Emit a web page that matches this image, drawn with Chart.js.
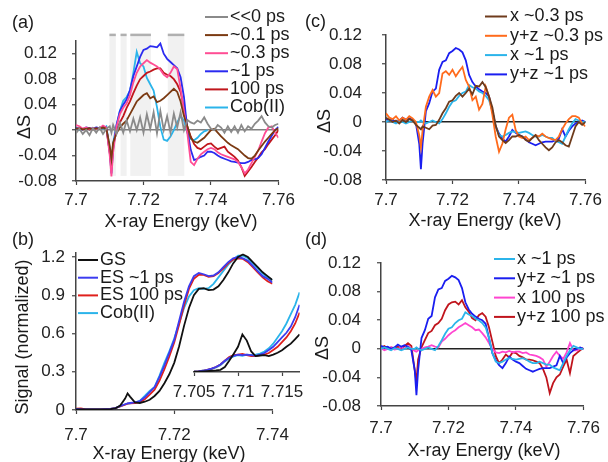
<!DOCTYPE html>
<html>
<head>
<meta charset="utf-8">
<title>Cobalamin XANES difference spectra</title>
<script src="https://cdn.jsdelivr.net/npm/chart.js"></script>
<style>
  body { margin: 0; background: #fff; }
  #fig { position: relative; width: 608px; height: 462px; overflow: hidden; background: #fff; }
  #fig canvas { position: absolute; }
</style>
</head>
<body>
<div id="fig">
  <canvas id="chartA" width="300" height="236" style="left:0px;top:0px"></canvas>
  <canvas id="chartC" width="308" height="236" style="left:300px;top:0px"></canvas>
  <canvas id="chartB" width="300" height="232" style="left:0px;top:230px"></canvas>
  <canvas id="chartD" width="308" height="232" style="left:300px;top:230px"></canvas>
  <canvas id="chartInset" width="180" height="160" style="left:140px;top:250px"></canvas>
</div>
<script>
// energies (keV) for the difference spectra, panels a, c, d
const energyA = [7.700, 7.701, 7.702, 7.703, 7.704, 7.705, 7.706, 7.707, 7.708, 7.709,
  7.710, 7.7105, 7.711,
  7.712, 7.713, 7.714, 7.715, 7.716, 7.717, 7.718, 7.719,
  7.720, 7.721, 7.722, 7.723, 7.724, 7.725, 7.726, 7.727, 7.728, 7.729,
  7.730, 7.731, 7.732, 7.733, 7.734, 7.735, 7.736, 7.737, 7.738, 7.739,
  7.740, 7.741, 7.742, 7.743, 7.744, 7.745, 7.746, 7.747, 7.748, 7.749,
  7.750, 7.751, 7.752, 7.753, 7.754, 7.755, 7.756, 7.757, 7.758, 7.759, 7.760];

// panel (a): delta S for each delay
const negDelay = [-0.005, 0.002, -0.006, 0.0, -0.008, 0.003, -0.004, 0.004, -0.006, 0.002,
  0.006, -0.004, 0.008,
  -0.006, 0.012, -0.004, 0.015, -0.002, 0.018, 0.0, 0.02,
  -0.004, 0.025, 0.002, 0.028, -0.005, 0.03, 0.0, 0.022, -0.004, 0.026,
  0.004, 0.028, 0.0, 0.016, 0.012, 0.01, 0.015, 0.012, 0.02, 0.01,
  0.002, 0.0, 0.008, 0.004, -0.004, 0.006, -0.003, 0.006, -0.004, 0.008,
  -0.002, 0.006, 0.002, 0.01, 0.015, 0.022, 0.012, 0.006, 0.004, 0.008, 0.01];
const delay01 = [0.002, 0.003, 0.001, 0.002, 0.003, 0.001, 0.003, 0.002, 0.004, 0.002,
  -0.025, -0.045, -0.02,
  -0.005, 0.004, 0.01, 0.015, 0.025, 0.035, 0.045, 0.05,
  0.055, 0.058, 0.05, 0.053, 0.044, 0.046, 0.05, 0.055, 0.06, 0.065,
  0.06, 0.045, 0.022, 0.006, -0.012, -0.018, -0.02, -0.016, -0.012, -0.006,
  0.0, 0.002, -0.004, -0.01, -0.015, -0.02, -0.024, -0.027, -0.03, -0.035,
  -0.04, -0.044, -0.045, -0.04, -0.032, -0.025, -0.018, -0.012, -0.006, 0.0, 0.003];
const delay03 = [0.008, 0.006, 0.002, 0.004, 0.002, 0.003, 0.002, 0.003, 0.007, 0.004,
  -0.04, -0.073, -0.035,
  0.005, 0.025, 0.035, 0.042, 0.055, 0.075, 0.09, 0.1,
  0.105, 0.11, 0.106, 0.103, 0.1, 0.095, 0.087, 0.083, 0.09, 0.1,
  0.096, 0.065, 0.03, -0.005, -0.05, -0.055, -0.045, -0.038, -0.034, -0.03,
  -0.028, -0.03, -0.035, -0.038, -0.04, -0.042, -0.044, -0.046, -0.05, -0.058,
  -0.068, -0.062, -0.052, -0.042, -0.032, -0.018, -0.005, 0.004, 0.006, -0.004, -0.012];
const delay1 = [0.003, 0.002, 0.001, 0.004, 0.003, 0.002, 0.004, 0.003, 0.006, 0.004,
  -0.035, -0.068, -0.03,
  0.008, 0.03, 0.04, 0.048, 0.063, 0.085, 0.1, 0.115,
  0.126, 0.128, 0.132, 0.131, 0.13, 0.136, 0.12, 0.112, 0.107, 0.102,
  0.097, 0.083, 0.052, 0.0, -0.031, -0.047, -0.045, -0.042, -0.04, -0.034,
  -0.034, -0.036, -0.04, -0.043, -0.045, -0.047, -0.049, -0.05, -0.051, -0.052,
  -0.052, -0.05, -0.047, -0.046, -0.044, -0.038, -0.028, -0.018, -0.009, 0.0, 0.005];
const delay100 = [0.003, 0.002, 0.002, 0.003, 0.001, 0.002, 0.003, 0.002, 0.005, 0.003,
  -0.035, -0.06, -0.025,
  0.0, 0.012, 0.022, 0.035, 0.045, 0.058, 0.07, 0.08,
  0.085, 0.09, 0.092, 0.095, 0.097, 0.097, 0.09, 0.087, 0.085, 0.08,
  0.072, 0.06, 0.035, 0.005, -0.01, -0.022, -0.028, -0.03, -0.026, -0.022,
  -0.021, -0.026, -0.03, -0.028, -0.026, -0.034, -0.038, -0.042, -0.048, -0.058,
  -0.072, -0.065, -0.058, -0.05, -0.043, -0.035, -0.03, -0.022, -0.015, -0.008, 0.0];
const cobDiff = [0.002, 0.0, 0.002, 0.003, 0.001, 0.003, 0.004, 0.003, 0.002, 0.006,
  -0.03, -0.055, -0.02,
  0.006, 0.03, 0.046, 0.052, 0.062, 0.09, 0.123, 0.105,
  0.1, 0.082, 0.072, 0.062, 0.036, 0.005, -0.015, -0.017, -0.01, 0.0,
  0.012, 0.022, 0.015, -0.005, -0.014, -0.016, -0.012, -0.006, -0.002, 0.0,
  null, null, null, null, null, null, null, null, null, null,
  null, null, null, null, null, null, null, null, null, null, null];
// shaded energy windows in panel (a)
const shadeRanges = [[7.7099, 7.7118], [7.7132, 7.7150], [7.7161, 7.7222], [7.7272, 7.7321]];

// panels (c) and (d): polarized difference spectra
const x03 = [0.006, 0.003, 0.0, 0.002, -0.002, 0.003, 0.0, 0.004, 0.002, -0.004,
  -0.008, -0.01, -0.006,
  -0.008, -0.01, -0.005, -0.004, 0.003, 0.012, 0.019, 0.028,
  0.03, 0.036, 0.04, 0.035, 0.04, 0.046, 0.038, 0.05, 0.049, 0.055,
  0.048, 0.035, 0.02, -0.005, -0.02, -0.025, -0.029, -0.025, -0.02, -0.02,
  -0.018, -0.02, -0.025, -0.027, -0.022, -0.018, -0.025, -0.03, -0.035, -0.039,
  -0.035, -0.028, -0.025, -0.028, -0.032, -0.034, -0.02, -0.006, 0.0, -0.004, 0.0];
const yz03 = [0.012, 0.006, 0.004, 0.008, 0.002, 0.006, 0.003, 0.008, 0.005, 0.0,
  -0.018, -0.035, -0.012,
  0.021, 0.035, 0.044, 0.035, 0.04, 0.067, 0.07, 0.065,
  0.072, 0.063, 0.07, 0.076, 0.058, 0.049, 0.03, 0.035, 0.017, 0.025,
  0.049, 0.035, 0.01, -0.02, -0.041, -0.03, -0.01, 0.006, 0.01, -0.011,
  -0.02, -0.022, -0.02, -0.025, -0.022, -0.018, -0.02, -0.016, -0.02, -0.022,
  -0.024, -0.025, -0.02, -0.01, -0.002, 0.004, 0.008, 0.008, 0.006, -0.002, -0.006];
const x1 = [0.0, 0.002, 0.0, -0.002, 0.001, 0.0, -0.002, 0.0, 0.002, 0.0,
  0.0, 0.002, 0.0,
  -0.002, 0.0, 0.002, 0.0, -0.002, 0.004, 0.012, 0.021,
  0.028, 0.03, 0.036, 0.04, 0.042, 0.051, 0.048, 0.046, 0.042, 0.04,
  0.036, 0.03, 0.015, -0.006, -0.018, -0.02, -0.018, -0.015, -0.013, -0.014,
  -0.015, -0.014, -0.013, -0.015, -0.018, -0.02, -0.02, -0.018, -0.02, -0.022,
  -0.022, -0.026, -0.028, -0.03, -0.02, -0.01, -0.002, 0.004, 0.002, 0.0, 0.0];
const yz1 = [0.004, 0.002, 0.003, 0.0, 0.002, 0.006, 0.003, 0.005, 0.003, -0.002,
  -0.03, -0.065, -0.03,
  0.015, 0.026, 0.042, 0.046, 0.072, 0.083, 0.085, 0.095,
  0.098, 0.102, 0.1, 0.096, 0.085, 0.065, 0.055, 0.049, 0.045, 0.042,
  0.04, 0.035, 0.015, -0.006, -0.016, -0.023, -0.027, -0.02, -0.011, -0.015,
  -0.018, -0.02, -0.024, -0.028, -0.03, -0.032, -0.03, -0.028, -0.027, -0.027,
  -0.027, -0.025, -0.023, -0.01, -0.02, -0.012, -0.006, -0.002, 0.0, 0.002, 0.0];
const x100 = [0.001, -0.002, 0.0, 0.002, -0.001, 0.0, 0.002, 0.0, 0.004, 0.0,
  -0.003, -0.004, -0.002,
  0.0, 0.002, 0.003, 0.005, 0.003, 0.002, 0.01, 0.014,
  0.019, 0.023, 0.026, 0.03, 0.033, 0.036, 0.033, 0.03, 0.026, 0.027,
  0.022, 0.016, 0.008, 0.0, -0.005, -0.006, -0.004, -0.005, -0.003, -0.005,
  -0.004, -0.004, -0.006, -0.005, -0.008, -0.009, -0.01, -0.012, -0.015, -0.025,
  -0.018, -0.01, -0.004, -0.01, -0.014, -0.005, 0.008, -0.002, -0.002, 0.0, 0.0];
const yz100 = [0.002, 0.004, 0.0, 0.002, 0.001, 0.003, 0.0, 0.004, 0.008, 0.004,
  -0.03, -0.046, -0.015,
  0.002, 0.012, 0.022, 0.025, 0.033, 0.036, 0.042, 0.054,
  0.062, 0.065, 0.066, 0.062, 0.068, 0.058, 0.052, 0.043, 0.04, 0.047,
  0.05, 0.045, 0.03, 0.01, -0.01, -0.02, -0.015, -0.008, -0.012, -0.005,
  -0.006, -0.01, -0.012, -0.015, -0.015, -0.016, -0.018, -0.02, -0.028, -0.04,
  -0.062, -0.048, -0.04, -0.036, -0.025, -0.015, -0.034, -0.01, -0.006, -0.002, 0.001];

// panel (b): normalized XANES spectra
const energyB = [7.700, 7.701, 7.702, 7.703, 7.704, 7.705, 7.706, 7.707, 7.708, 7.709,
  7.710, 7.7105, 7.711,
  7.712, 7.713, 7.714, 7.715, 7.716, 7.717, 7.718, 7.719,
  7.720, 7.721, 7.722, 7.723, 7.724, 7.725, 7.726, 7.727, 7.728, 7.729,
  7.730, 7.731, 7.732, 7.733, 7.734, 7.735, 7.736, 7.737, 7.738, 7.739, 7.740];
const groundState = [0.005, 0.004, 0.005, 0.004, 0.005, 0.004, 0.005, 0.006, 0.012, 0.035,
  0.09, 0.13, 0.105,
  0.06, 0.055, 0.065, 0.08, 0.11, 0.15, 0.21, 0.28,
  0.37, 0.5, 0.66, 0.8, 0.9, 0.95, 0.955, 0.94, 0.945, 0.97,
  1.02, 1.08, 1.15, 1.2, 1.22, 1.2, 1.16, 1.12, 1.08, 1.05, 1.02];
const excited1 = [0.008, 0.006, 0.005, 0.004, 0.005, 0.004, 0.006, 0.008, 0.015, 0.03,
  0.045, 0.052, 0.055,
  0.06, 0.07, 0.1, 0.14, 0.18, 0.26, 0.35, 0.45,
  0.55, 0.7, 0.85, 0.97, 1.05, 1.075, 1.065, 1.05, 1.055, 1.08,
  1.12, 1.16, 1.19, 1.2, 1.19, 1.17, 1.13, 1.09, 1.05, 1.03, 1.0];
const excited100 = [0.01, 0.012, 0.005, 0.004, 0.005, 0.004, 0.006, 0.008, 0.014, 0.028,
  0.042, 0.05, 0.052,
  0.055, 0.062, 0.085, 0.12, 0.16, 0.23, 0.32, 0.42,
  0.53, 0.67, 0.82, 0.95, 1.03, 1.06, 1.06, 1.045, 1.05, 1.075,
  1.11, 1.15, 1.18, 1.19, 1.185, 1.16, 1.12, 1.08, 1.04, 1.01, 0.99];
const cobSpec = [0.006, 0.005, 0.004, 0.005, 0.004, 0.005, 0.006, 0.008, 0.015, 0.03,
  0.045, 0.05, 0.052,
  0.058, 0.072, 0.11, 0.15, 0.18, 0.27, 0.37, 0.46,
  0.56, 0.68, 0.8, 0.89, 0.94, 0.955, 0.95, 0.955, 0.99, 1.04,
  1.09, 1.14, 1.18, 1.21, 1.21, 1.19, 1.15, 1.11, 1.07, 1.04, 1.02];

// inset of panel (b): pre-edge region
const insetE = [7.705, 7.7055, 7.706, 7.7065, 7.707, 7.7075, 7.708, 7.7085, 7.709, 7.7095,
  7.710, 7.7105, 7.711, 7.7115, 7.712, 7.7125, 7.713, 7.7135, 7.714, 7.7145,
  7.715, 7.7155, 7.716, 7.7165, 7.717];
const gsInset = [0.005, 0.005, 0.006, 0.007, 0.008, 0.009, 0.011, 0.02, 0.04, 0.062,
  0.085, 0.125, 0.105, 0.07, 0.055, 0.057, 0.058, 0.055, 0.06, 0.066,
  0.074, 0.085, 0.095, 0.11, 0.125];
const es1Inset = [0.005, 0.006, 0.008, 0.011, 0.015, 0.02, 0.028, 0.04, 0.05, 0.056,
  0.06, 0.058, 0.06, 0.058, 0.056, 0.06, 0.065, 0.075, 0.085, 0.1,
  0.115, 0.13, 0.15, 0.18, 0.22];
const es100Inset = [0.005, 0.006, 0.008, 0.011, 0.015, 0.02, 0.028, 0.04, 0.052, 0.058,
  0.06, 0.062, 0.058, 0.055, 0.055, 0.058, 0.06, 0.065, 0.075, 0.085,
  0.1, 0.115, 0.135, 0.16, 0.195];
const cobInset = [0.005, 0.006, 0.008, 0.01, 0.014, 0.019, 0.026, 0.038, 0.048, 0.054,
  0.058, 0.056, 0.06, 0.058, 0.06, 0.063, 0.07, 0.08, 0.095, 0.115,
  0.135, 0.16, 0.19, 0.22, 0.26];

const fontFam = 'Arial, "Liberation Sans", Helvetica, sans-serif';
Chart.defaults.font.family = fontFam;
Chart.defaults.font.size = 17;
Chart.defaults.color = '#222';

// extra drawing: shaded windows, panel letters, axis titles and legend
const figurePlugin = {
    id: 'figure',
    beforeDraw: function(chart, args, o) {
        if (!o.bands) return;
        const ctx = chart.ctx, xs = chart.scales.x, ys = chart.scales.y;
        const top = ys.getPixelForValue(o.bands.top);
        const bottom = ys.getPixelForValue(o.bands.bottom);
        ctx.save();
        o.bands.ranges.forEach(function(r) {
            const x0 = xs.getPixelForValue(r[0]);
            const x1 = xs.getPixelForValue(r[1]);
            ctx.fillStyle = '#f1f1f1';
            ctx.fillRect(x0, top, x1 - x0, bottom - top);
            ctx.fillStyle = '#b0b0b0';
            ctx.fillRect(x0, top - 1, x1 - x0, 2.5);
        });
        ctx.restore();
    },
    afterDraw: function(chart, args, o) {
        const ctx = chart.ctx;
        ctx.save();
        ctx.fillStyle = '#1a1a1a';
        ctx.textBaseline = 'middle';
        if (o.panel) {
            ctx.font = '18px ' + fontFam;
            ctx.textAlign = 'left';
            ctx.fillText(o.panel.text, o.panel.x, o.panel.y);
        }
        if (o.xTitle) {
            ctx.font = '18px ' + fontFam;
            ctx.textAlign = 'center';
            ctx.fillText(o.xTitle.text, o.xTitle.x, o.xTitle.y);
        }
        if (o.yTitle) {
            ctx.save();
            ctx.font = '18px ' + fontFam;
            ctx.textAlign = 'center';
            ctx.translate(o.yTitle.x, o.yTitle.y);
            ctx.rotate(-Math.PI / 2);
            ctx.fillText(o.yTitle.text, 0, 0);
            ctx.restore();
        }
        if (o.legend) {
            const L = o.legend;
            ctx.font = '18px ' + fontFam;
            ctx.textAlign = 'left';
            chart.data.datasets.forEach(function(ds, i) {
                const y = L.y + i * L.dy;
                ctx.strokeStyle = ds.borderColor;
                ctx.lineWidth = 2;
                ctx.beginPath();
                ctx.moveTo(L.x0, y);
                ctx.lineTo(L.x1, y);
                ctx.stroke();
                ctx.fillText(ds.label, L.tx, y);
            });
        }
        ctx.restore();
    }
};
Chart.register(figurePlugin);

function toPoints(xs, ys) {
    return xs.map(function(x, i) { return {x: x, y: ys[i]}; });
}

function series(label, xs, ys, color) {
    return {
        label: label,
        data: toPoints(xs, ys),
        borderColor: color,
        backgroundColor: color,
        borderWidth: 1.8,
        pointRadius: 0,
        tension: 0,
        fill: false,
        spanGaps: false
    };
}

function fmt(v) {
    return String(+Number(v).toFixed(4));
}

// one panel, s holds the layout of that panel
function drawPanel(id, datasets, s) {
    const axisColor = '#444';
    return new Chart(document.getElementById(id), {
        type: 'line',
        data: {datasets: datasets},
        options: {
            responsive: false,
            animation: false,
            events: [],
            layout: {padding: {left: s.left || 0, top: s.top, right: s.right, bottom: 0}},
            plugins: {legend: {display: false}, tooltip: {enabled: false}, figure: s.figure},
            scales: {
                x: {
                    type: 'linear', min: s.xmin, max: s.xmax,
                    afterFit: function(sc) { sc.height = s.xAxisH; },
                    ticks: {stepSize: s.xstep, padding: s.xpad, callback: fmt, includeBounds: false,
                        autoSkip: false, maxRotation: 0},
                    grid: {drawOnChartArea: false, tickLength: 4, tickColor: axisColor, tickWidth: 1.2},
                    border: {color: axisColor, width: 1.5}
                },
                y: {
                    display: s.yAxisW > 0,
                    min: s.ymin, max: s.ymax,
                    afterFit: function(sc) { sc.width = s.yAxisW; },
                    ticks: {stepSize: s.ystep, padding: s.ypad, callback: fmt, includeBounds: false},
                    grid: {
                        color: function(c) {
                            return (s.zeroColor && c.tick && Math.abs(c.tick.value) < 1e-9) ? s.zeroColor : 'rgba(0,0,0,0)';
                        },
                        lineWidth: 1.5, tickLength: 4, tickColor: axisColor, tickWidth: 1.2
                    },
                    border: {color: axisColor, width: 1.5}
                }
            }
        }
    });
}

// (a) delay series
drawPanel('chartA', [
    series('<<0 ps', energyA, negDelay, '#8a8a8a'),
    series('~0.1 ps', energyA, delay01, '#7b3a12'),
    series('~0.3 ps', energyA, delay03, '#ff4d94'),
    series('~1 ps', energyA, delay1, '#2a2af0'),
    series('100 ps', energyA, delay100, '#c0161c'),
    series('Cob(II)', energyA, cobDiff, '#2bb4ea')
], {
    top: 41, right: 17, yAxisW: 76, xAxisH: 55,
    xmin: 7.7, xmax: 7.76, xstep: 0.02, xpad: 5,
    ymin: -0.08, ymax: 0.14, ystep: 0.04, ypad: 15, zeroColor: '#808080',
    figure: {
        bands: {ranges: shadeRanges, top: 0.15, bottom: -0.072},
        panel: {text: '(a)', x: 12, y: 23},
        xTitle: {text: 'X-ray Energy (keV)', x: 181, y: 222},
        yTitle: {text: 'ΔS', x: 25, y: 127},
        legend: {x0: 205, x1: 228, tx: 230, y: 17, dy: 18.1}
    }
});

// (c) polarization, early delays
drawPanel('chartC', [
    series('x ~0.3 ps', energyA, x03, '#6e3b1c'),
    series('y+z ~0.3 ps', energyA, yz03, '#ff6b1c'),
    series('x ~1 ps', energyA, x1, '#2bb4ea'),
    series('y+z ~1 ps', energyA, yz1, '#1a1ef0')
], {
    top: 35, right: 21, yAxisW: 86, xAxisH: 56,
    xmin: 7.7, xmax: 7.76, xstep: 0.02, xpad: 6,
    ymin: -0.08, ymax: 0.12, ystep: 0.04, ypad: 20, zeroColor: '#222',
    figure: {
        panel: {text: '(c)', x: 5, y: 22},
        xTitle: {text: 'X-ray Energy (keV)', x: 185, y: 221},
        yTitle: {text: 'ΔS', x: 25, y: 121},
        legend: {x0: 185, x1: 207, tx: 210, y: 16.5, dy: 19.3}
    }
});

// (b) normalized spectra
drawPanel('chartB', [
    series('GS', energyB, groundState, '#111111'),
    series('ES ~1 ps', energyB, excited1, '#3c3cf0'),
    series('ES 100 ps', energyB, excited100, '#e0201c'),
    series('Cob(II)', energyB, cobSpec, '#2bb4ea')
], {
    top: 23.2, right: 17, yAxisW: 76, xAxisH: 52,
    xmin: 7.7, xmax: 7.74, xstep: 0.02, xpad: 11,
    ymin: 0, ymax: 1.23, ystep: 0.3, ypad: 7, zeroColor: null,
    figure: {
        panel: {text: '(b)', x: 12, y: 10},
        xTitle: {text: 'X-ray Energy (keV)', x: 169, y: 224},
        yTitle: {text: 'Signal (normalized)', x: 23.5, y: 107},
        legend: {x0: 78, x1: 98, tx: 100, y: 30, dy: 17.7}
    }
});

// (b) inset, pre-edge zoom
drawPanel('chartInset', [
    series('GS', insetE, gsInset, '#111111'),
    series('ES ~1 ps', insetE, es1Inset, '#3c3cf0'),
    series('ES 100 ps', insetE, es100Inset, '#e0201c'),
    series('Cob(II)', insetE, cobInset, '#2bb4ea')
], {
    left: 54, top: 38, right: 20.4, yAxisW: 0, xAxisH: 38,
    xmin: 7.705, xmax: 7.717, xstep: 0.005, xpad: 6,
    ymin: 0.004, ymax: 0.274, ystep: 0.1, ypad: 0, zeroColor: null,
    figure: {}
});

// (d) polarization, 1 ps vs 100 ps
drawPanel('chartD', [
    series('x ~1 ps', energyA, x1, '#2bb4ea'),
    series('y+z ~1 ps', energyA, yz1, '#1a1ef0'),
    series('x 100 ps', energyA, x100, '#ff45d0'),
    series('y+z 100 ps', energyA, yz100, '#c0141c')
], {
    top: 33, right: 21, yAxisW: 81, xAxisH: 56,
    xmin: 7.7, xmax: 7.76, xstep: 0.02, xpad: 8,
    ymin: -0.08, ymax: 0.12, ystep: 0.04, ypad: 16, zeroColor: '#222',
    figure: {
        panel: {text: '(d)', x: 5, y: 10},
        xTitle: {text: 'X-ray Energy (keV)', x: 184, y: 221},
        yTitle: {text: 'ΔS', x: 23.5, y: 118},
        legend: {x0: 194, x1: 215, tx: 217, y: 29, dy: 19.3}
    }
});
</script>
</body>
</html>
